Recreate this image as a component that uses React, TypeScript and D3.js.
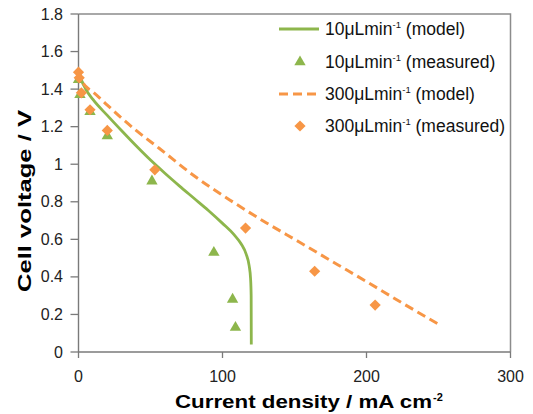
import React from "react";
import * as d3 from "d3";

const greenModel: [number, number][] = [
  [0, 1.51], [2, 1.45], [5, 1.4], [10, 1.345], [20, 1.26], [30, 1.178], [40, 1.098],
  [50, 1.022], [60, 0.952], [70, 0.885], [80, 0.82], [90, 0.755], [100, 0.685],
  [108, 0.625], [113, 0.575], [116.5, 0.52], [118.5, 0.46], [119.5, 0.39], [119.9, 0.3], [120, 0.04],
];
const orangeModel: [number, number][] = [
  [0, 1.5], [2, 1.45], [5, 1.415], [10, 1.385], [20, 1.315], [30, 1.245], [40, 1.18],
  [56, 1.085], [80, 0.94], [105, 0.81], [130, 0.69], [153, 0.587], [180, 0.465],
  [200, 0.375], [225, 0.26], [251, 0.144],
];
const greenMeasured: [number, number][] = [
  [0, 1.45], [1, 1.37], [8, 1.28], [20, 1.15], [51, 0.91], [94, 0.53], [107, 0.28], [109, 0.13],
];
const orangeMeasured: [number, number][] = [
  [0, 1.49], [0.5, 1.46], [2, 1.38], [8, 1.29], [20, 1.18], [53, 0.97], [116, 0.66], [164, 0.43], [206, 0.25],
];
const xTicks = [0, 100, 200, 300];
const yTicks = [0, 0.2, 0.4, 0.6, 0.8, 1, 1.2, 1.4, 1.6, 1.8];
const legendLabels = ["10μLmin", "10μLmin", "300μLmin", "300μLmin"];
const legendSuffix = [" (model)", " (measured)", " (model)", " (measured)"];

const GREEN = "#8DB64C";
const ORANGE = "#F79646";
const FONT = "'Liberation Sans', Arial, sans-serif";

export default function App() {
  const x = d3.scaleLinear().domain([0, 300]).range([78.5, 510.5]);
  const y = d3.scaleLinear().domain([0, 1.8]).range([352, 14]);
  const line = d3
    .line<[number, number]>()
    .x((d) => x(d[0]))
    .y((d) => y(d[1]))
    .curve(d3.curveMonotoneX);
  const tri = d3.symbol().type(d3.symbolTriangle).size(56)()!;
  const dia = "M0,-5.6L5.6,0L0,5.6L-5.6,0Z";

  const legendY = [29, 62, 94, 126];

  return (
    <svg
      width={533}
      height={414}
      style={{ position: "absolute", left: 0, top: 0, background: "#fff" }}
      fontFamily={FONT}
    >
      <rect x={0} y={0} width={533} height={414} fill="#fff" />
      <path d={`M${x(0)},${y(1.8)}H${x(300)}V${y(0)}`} fill="none" stroke="#8c8c8c" strokeWidth={1.5} />
      <line x1={x(0)} x2={x(0)} y1={y(0)} y2={y(1.8)} stroke="#7a7a7a" strokeWidth={1.4} />
      <line x1={x(0)} x2={x(300)} y1={y(0)} y2={y(0)} stroke="#7a7a7a" strokeWidth={1.4} />
      {yTicks.map((t) => (
        <g key={"y" + t}>
          <line x1={x(0) - 8} x2={x(0)} y1={y(t)} y2={y(t)} stroke="#7a7a7a" strokeWidth={1.3} />
          <text x={63} y={y(t) + 5.5} textAnchor="end" fontSize={16} fill="#222">
            {String(t)}
          </text>
        </g>
      ))}
      {xTicks.map((t) => (
        <g key={"x" + t}>
          <line x1={x(t)} x2={x(t)} y1={y(0)} y2={y(0) + 6} stroke="#7a7a7a" strokeWidth={1.3} />
          <text x={x(t)} y={382} textAnchor="middle" fontSize={16} fill="#222">
            {String(t)}
          </text>
        </g>
      ))}
      <text
        transform="translate(31,201) rotate(-90)"
        textAnchor="middle"
        fontSize={18}
        fontWeight="bold"
        textLength={182}
        lengthAdjust="spacingAndGlyphs"
        fill="#000"
      >
        Cell voltage / V
      </text>
      <text x={175} y={408} fontSize={19} fontWeight="bold" textLength={257} lengthAdjust="spacingAndGlyphs" fill="#000">
        Current density  / mA cm
      </text>
      <text x={433} y={401} fontSize={11} fontWeight="bold" fill="#000">
        -2
      </text>

      <path d={line(greenModel)!} fill="none" stroke={GREEN} strokeWidth={2.8} />
      <path d={line(orangeModel)!} fill="none" stroke={ORANGE} strokeWidth={3} strokeDasharray="9,5" />

      {greenMeasured.map((d, i) => (
        <path key={"g" + i} d={tri} transform={`translate(${x(d[0])},${y(d[1])})`} fill={GREEN} />
      ))}
      {orangeMeasured.map((d, i) => (
        <path key={"o" + i} d={dia} transform={`translate(${x(d[0])},${y(d[1])})`} fill={ORANGE} />
      ))}

      <line x1={279} x2={319} y1={legendY[0]} y2={legendY[0]} stroke={GREEN} strokeWidth={2.8} />
      <path d={tri} transform={`translate(300,${legendY[1]})`} fill={GREEN} />
      <line x1={279} x2={319} y1={legendY[2]} y2={legendY[2]} stroke={ORANGE} strokeWidth={3} strokeDasharray="9,5" />
      <path d={dia} transform={`translate(300,${legendY[3]})`} fill={ORANGE} />
      {legendLabels.map((lab, i) => (
        <text key={"l" + i} x={325} y={legendY[i] + 6} fontSize={17.5} fill="#111">
          {lab}
          <tspan fontSize={9.5} dy={-7}>-1</tspan>
          <tspan dy={7}>{legendSuffix[i]}</tspan>
        </text>
      ))}
    </svg>
  );
}
